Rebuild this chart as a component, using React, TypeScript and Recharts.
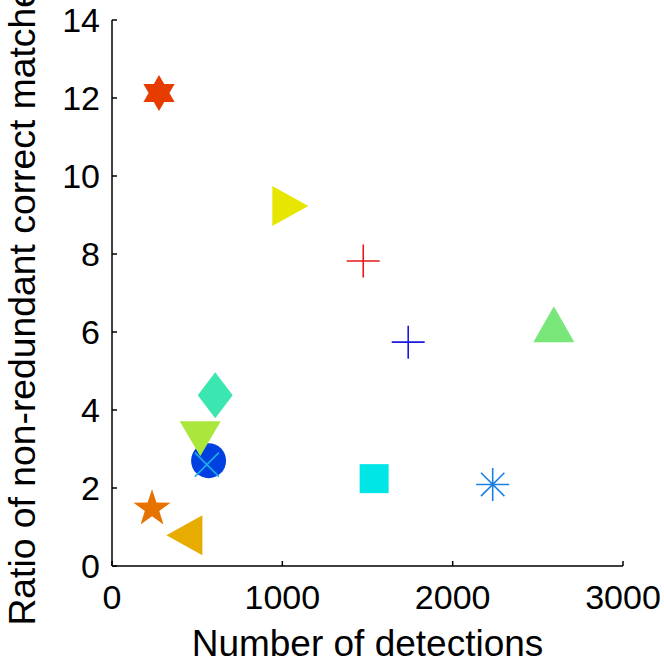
import React from 'react';
import { ScatterChart, Scatter, XAxis, YAxis, Label } from 'recharts';

// values
const detections = [276, 1047, 1475, 1739, 2594, 1539, 2235, 606, 567, 518, 557, 235, 425];
const ratios = [12.13, 9.23, 7.82, 5.74, 6.2, 2.24, 2.09, 4.38, 2.7, 3.26, 2.6, 1.47, 0.79];
const xTicks = [0, 1000, 2000, 3000];
const yTicks = [0, 2, 4, 6, 8, 10, 12, 14];

const markerKinds = [
  'hexagram', 'triRight', 'plus', 'plus', 'triUp', 'square', 'asterisk',
  'diamond', 'circle', 'triDown', 'cross', 'pentagram', 'triLeft',
];
const markerColors = [
  '#e63c00', '#e6e600', '#e61919', '#1919e0', '#78e678', '#00e6e6', '#1a80e6',
  '#3ce6b0', '#0040e0', '#aae63c', '#1ab0e6', '#e67300', '#e6ac00',
];

const FONT = '"Liberation Sans", Arial, Helvetica, sans-serif';

const starPath = (cx: number, cy: number, n: number, ro: number, ri: number) => {
  const pts: string[] = [];
  for (let i = 0; i < n * 2; i++) {
    const r = i % 2 === 0 ? ro : ri;
    const a = -Math.PI / 2 + (i * Math.PI) / n;
    pts.push(`${cx + r * Math.cos(a)},${cy + r * Math.sin(a)}`);
  }
  return 'M' + pts.join('L') + 'Z';
};

const Marker = ({ cx, cy, kind, color }: any) => {
  if (cx == null || cy == null) return null;
  switch (kind) {
    case 'hexagram':
      return <path d={starPath(cx, cy, 6, 18, 10.4)} fill={color} />;
    case 'pentagram':
      return <path d={starPath(cx, cy, 5, 19.5, 7.6)} fill={color} />;
    case 'triRight':
      return <path d={`M${cx - 18},${cy - 20}L${cx + 18},${cy}L${cx - 18},${cy + 20}Z`} fill={color} />;
    case 'triLeft':
      return <path d={`M${cx + 18},${cy - 20}L${cx - 18},${cy}L${cx + 18},${cy + 20}Z`} fill={color} />;
    case 'triUp':
      return <path d={`M${cx - 20.5},${cy + 18}L${cx},${cy - 18}L${cx + 20.5},${cy + 18}Z`} fill={color} />;
    case 'triDown':
      return <path d={`M${cx - 20.5},${cy - 17.5}L${cx},${cy + 17.5}L${cx + 20.5},${cy - 17.5}Z`} fill={color} />;
    case 'square':
      return <rect x={cx - 14.5} y={cy - 14.5} width={29} height={29} fill={color} />;
    case 'diamond':
      return <path d={`M${cx},${cy - 23}L${cx + 17.5},${cy}L${cx},${cy + 23}L${cx - 17.5},${cy}Z`} fill={color} />;
    case 'circle':
      return <circle cx={cx} cy={cy} r={17.5} fill={color} />;
    case 'plus':
      return (
        <path d={`M${cx - 16.5},${cy}H${cx + 16.5}M${cx},${cy - 16.5}V${cy + 16.5}`} stroke={color} strokeWidth={1.6} fill="none" />
      );
    case 'cross':
      return (
        <path
          d={`M${cx - 12},${cy - 12}L${cx + 12},${cy + 12}M${cx - 12},${cy + 12}L${cx + 12},${cy - 12}`}
          stroke={color}
          strokeWidth={1.6}
          fill="none"
        />
      );
    case 'asterisk': {
      const d = 11.7;
      return (
        <path
          d={`M${cx - 16.5},${cy}H${cx + 16.5}M${cx},${cy - 16.5}V${cy + 16.5}M${cx - d},${cy - d}L${cx + d},${cy + d}M${cx - d},${cy + d}L${cx + d},${cy - d}`}
          stroke={color}
          strokeWidth={1.6}
          fill="none"
        />
      );
    }
    default:
      return null;
  }
};

const XLabel = ({ viewBox }: any) => (
  <text x={viewBox.x + viewBox.width / 2} y={viewBox.y + 90} textAnchor="middle" fontSize={37} fontFamily={FONT} fill="#000">
    Number of detections
  </text>
);

const YLabel = ({ viewBox }: any) => {
  const y = viewBox.y + viewBox.height / 2 + 4;
  return (
    <text x={35} y={y} transform={`rotate(-90, 35, ${y})`} textAnchor="middle" fontSize={37.3} fontFamily={FONT} fill="#000">
      Ratio of non-redundant correct matches
    </text>
  );
};

export default function App() {
  return (
    <div style={{ position: 'absolute', left: 0, top: 0, background: '#fff' }}>
      <ScatterChart width={664} height={664} margin={{ top: 20, right: 41, bottom: 38, left: 40 }}>
        <XAxis
          type="number"
          dataKey="x"
          domain={[0, 3000]}
          ticks={xTicks}
          interval={0}
          height={60}
          axisLine={{ stroke: '#000', strokeWidth: 1.5 }}
          tickLine={{ stroke: '#000', strokeWidth: 1.5 }}
          tickSize={-5}
          tickMargin={24}
          tick={{ fill: '#000', fontSize: 34, fontFamily: FONT }}
        >
          <Label content={<XLabel />} />
        </XAxis>
        <YAxis
          type="number"
          dataKey="y"
          domain={[0, 14]}
          ticks={yTicks}
          interval={0}
          width={72}
          axisLine={{ stroke: '#000', strokeWidth: 1.5 }}
          tickLine={{ stroke: '#000', strokeWidth: 1.5 }}
          tickSize={-5}
          tickMargin={17}
          tick={{ fill: '#000', fontSize: 34, fontFamily: FONT }}
        >
          <Label content={<YLabel />} />
        </YAxis>
        {detections.map((d, i) => (
          <Scatter
            key={i}
            data={[{ x: d, y: ratios[i] }]}
            isAnimationActive={false}
            shape={(p: any) => <Marker cx={p.cx} cy={p.cy} kind={markerKinds[i]} color={markerColors[i]} />}
          />
        ))}
      </ScatterChart>
    </div>
  );
}
